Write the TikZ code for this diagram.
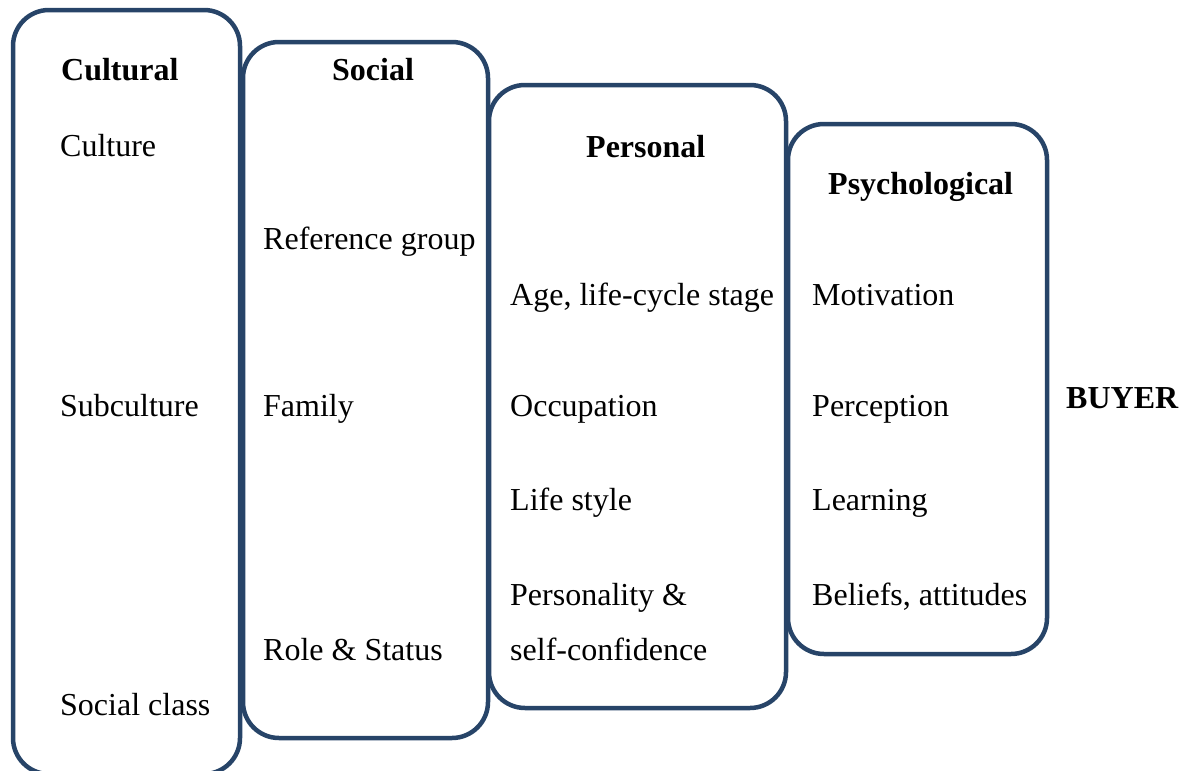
\documentclass[tikz,border=0pt]{standalone}
\usepackage{fontspec}
\setmainfont{Liberation Serif}
\definecolor{framecol}{RGB}{39,68,104}
\begin{document}
\begin{tikzpicture}[x=1pt,y=-1pt,
  panel/.style={draw=framecol, line width=4.5pt, rounded corners=36pt, inner sep=0pt},
  txt/.style={anchor=base west, inner sep=0pt, font=\fontsize{32}{38}\selectfont},
  head/.style={anchor=base west, inner sep=0pt, font=\fontsize{32}{38}\selectfont\bfseries}]
\useasboundingbox (0,0) rectangle (1186,771);
\clip (0,0) rectangle (1186,771);

% the four factor panels
\node[panel, minimum width=227pt, minimum height=764pt] (cultural) at (126.5,392) {};
\node[panel, minimum width=245pt, minimum height=696pt] (social) at (365.5,390) {};
\node[panel, minimum width=297pt, minimum height=623pt] (personal) at (637.5,396.5) {};
\node[panel, minimum width=259pt, minimum height=530pt] (psych) at (917.5,389) {};

% headings
\node[head] (hcult) at (61,80) {Cultural};
\node[head] (hsoc) at (332,80) {Social};
\node[head] (hpers) at (586,157) {Personal};
\node[head] (hpsy) at (828,194) {Psychological};

% cultural factors
\node[txt] (culture) at (60,156) {Culture};
\node[txt] (subculture) at (60,416) {Subculture};
\node[txt] (socclass) at (60,715) {Social class};

% social factors
\node[txt] (refgroup) at (263,249) {Reference group};
\node[txt] (family) at (263,416) {Family};
\node[txt] (role) at (263,660) {Role \& Status};

% personal factors
\node[txt] (age) at (510,305) {Age, life-cycle stage};
\node[txt] (occup) at (510,416) {Occupation};
\node[txt] (lifestyle) at (510,510) {Life style};
\node[txt] (personality) at (510,605) {Personality \&};
\node[txt] (selfconf) at (510,660) {self-confidence};

% psychological factors
\node[txt] (motiv) at (812,305) {Motivation};
\node[txt] (percep) at (812,416) {Perception};
\node[txt] (learn) at (812,510) {Learning};
\node[txt] (beliefs) at (812,605) {Beliefs, attitudes};

% the buyer
\node[head] (buyer) at (1066,408) {BUYER};
\end{tikzpicture}
\end{document}
